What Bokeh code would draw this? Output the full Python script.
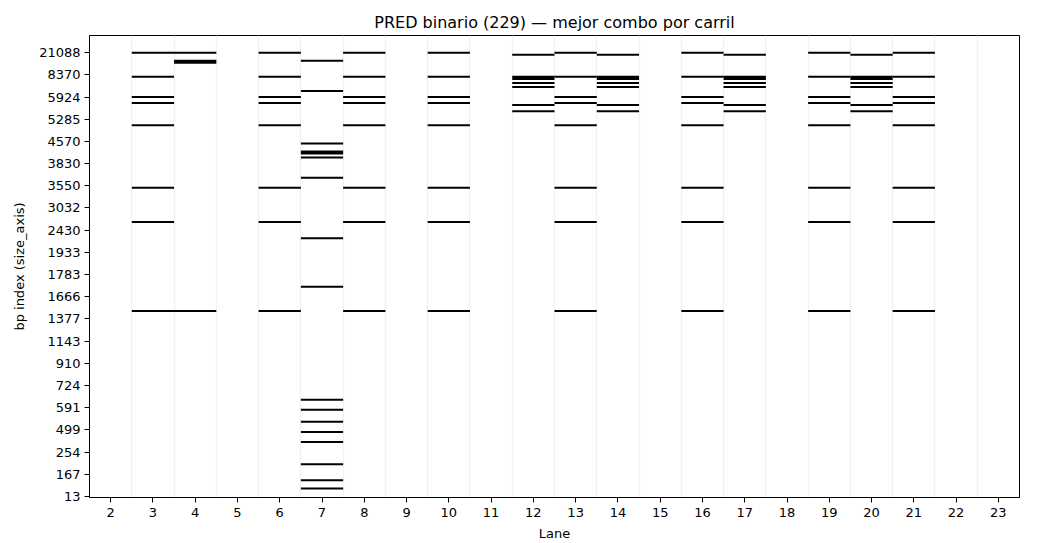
from bokeh.plotting import figure
from bokeh.models import FixedTicker, ColumnDataSource, Range1d
from bokeh.embed import file_html
from bokeh.resources import INLINE

# ---------------- data ----------------
lanes = list(range(2, 24))
n_rows = 229
ytick_rows = [0, 11, 22, 33, 44, 55, 66, 77, 88, 99, 110, 121, 132, 143, 154,
              165, 176, 187, 198, 209, 220]
ytick_labels = ["13", "167", "254", "499", "591", "724", "910", "1143", "1377",
                "1666", "1783", "1933", "2430", "3032", "3550", "3830", "4570",
                "5285", "5924", "8370", "21088"]

# band rows (index on size_axis) per lane group
ladder_lanes = [3, 6, 8, 10, 13, 16, 19, 21]
ladder_rows = [220, 208, 198, 195, 184, 153, 136, 92]

combo_b_lanes = [12, 14, 17, 20]
combo_b_rows = [219, 208, 207, 205, 203, 194, 191]

lane4_rows = [220, 216, 215, 92]
lane7_rows = [216, 201, 175, 171, 170, 168, 158, 128, 104, 48, 43, 37, 32, 27,
              16, 8, 4]

lane_bands = {}
for ln in ladder_lanes:
    lane_bands[ln] = ladder_rows
for ln in combo_b_lanes:
    lane_bands[ln] = combo_b_rows
lane_bands[4] = lane4_rows
lane_bands[7] = lane7_rows

# merge consecutive rows of a lane into a single band (no seams)
left, right, bottom, top = [], [], [], []
for ln, rows in lane_bands.items():
    rs = sorted(rows)
    start = prev = rs[0]
    for r in rs[1:] + [None]:
        if r is not None and r == prev + 1:
            prev = r
            continue
        left.append(ln - 0.5)
        right.append(ln + 0.5)
        bottom.append(start - 0.5)
        top.append(prev + 0.5)
        if r is not None:
            start = prev = r
src = ColumnDataSource(dict(left=left, right=right, bottom=bottom, top=top))

# ---------------- figure ----------------
FONT = "DejaVu Sans"
p = figure(width=1040, height=543, output_backend="svg", toolbar_location=None,
           x_range=Range1d(lanes[0] - 0.5, lanes[-1] + 0.5),
           y_range=Range1d(-0.5, n_rows - 0.5),
           title="PRED binario (229) — mejor combo por carril",
           min_border_left=89, min_border_right=21, min_border_top=35,
           min_border_bottom=46)

p.title.text_font = FONT
p.title.text_font_size = "16px"
p.title.text_font_style = "normal"
p.title.text_color = "black"
p.title.align = "center"
p.title.offset = 0
p.title.standoff = 7

p.outline_line_color = "black"
p.outline_line_width = 1
p.outline_line_alpha = 1

p.quad(left="left", right="right", bottom="bottom", top="top", source=src,
       fill_color="black", line_color=None)

# grid: light vertical separators between lanes
p.ygrid.grid_line_color = None
p.xgrid.ticker = FixedTicker(ticks=[l + 0.5 for l in lanes[:-1]])
p.xgrid.grid_line_color = "#f2f2f2"
p.xgrid.grid_line_width = 1.5

for ax in (p.xaxis[0], p.yaxis[0]):
    ax.axis_line_color = "black"
    ax.major_tick_line_color = "black"
    ax.major_tick_out = 5
    ax.major_tick_in = 0
    ax.minor_tick_line_color = None
    ax.major_label_text_font = FONT
    ax.major_label_text_font_size = "13px"
    ax.major_label_text_color = "black"
    ax.axis_label_text_font = FONT
    ax.axis_label_text_font_size = "13px"
    ax.axis_label_text_font_style = "normal"
    ax.axis_label_text_color = "black"

p.xaxis.ticker = FixedTicker(ticks=lanes)
p.xaxis.axis_label = "Lane"
p.xaxis.major_label_standoff = 5
p.xaxis.axis_label_standoff = 6

p.yaxis.ticker = FixedTicker(ticks=ytick_rows)
p.yaxis.major_label_overrides = {r: lab for r, lab in zip(ytick_rows, ytick_labels)}
p.yaxis.axis_label = "bp index (size_axis)"
p.yaxis.major_label_standoff = 4
p.yaxis.axis_label_standoff = 9

open("out.html", "w").write(file_html(p, INLINE))
